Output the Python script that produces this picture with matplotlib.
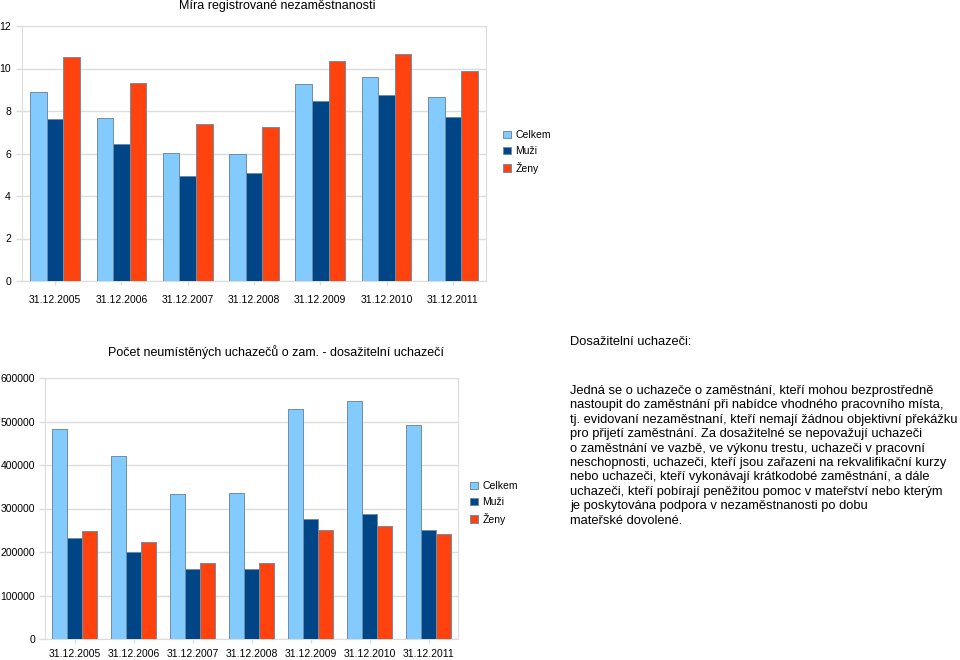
import matplotlib.pyplot as plt
import numpy as np

plt.rcParams['font.family'] = ['Liberation Sans', 'DejaVu Sans']

#===========data===========
dates = ["31.12.2005", "31.12.2006", "31.12.2007", "31.12.2008",
         "31.12.2009", "31.12.2010", "31.12.2011"]
series_names = ["Celkem", "Muži", "Ženy"]

# míra registrované nezaměstnanosti (%)
rate_celkem = [8.89, 7.68, 6.01, 5.98, 9.27, 9.58, 8.64]
rate_muzi = [7.62, 6.43, 4.95, 5.06, 8.45, 8.76, 7.70]
rate_zeny = [10.53, 9.31, 7.39, 7.23, 10.35, 10.68, 9.86]

# počet dosažitelných uchazečů
cnt_celkem = [481800, 421600, 332400, 334700, 527600, 546600, 492500]
cnt_muzi = [233300, 199800, 161600, 161600, 276800, 287400, 250800]
cnt_zeny = [248500, 222600, 173800, 173800, 251600, 260000, 241700]

info_title = "Dosažitelní uchazeči:"
info_lines = [
    "Jedná se o uchazeče o zaměstnání, kteří mohou bezprostředně",
    "nastoupit do zaměstnání při nabídce vhodného pracovního místa,",
    "tj. evidovaní nezaměstnaní, kteří nemají žádnou objektivní překážku",
    "pro přijetí zaměstnání. Za dosažitelné se nepovažují uchazeči",
    "o zaměstnání ve vazbě, ve výkonu trestu, uchazeči v pracovní",
    "neschopnosti, uchazeči, kteří jsou zařazeni na rekvalifikační kurzy",
    "nebo uchazeči, kteří vykonávají krátkodobé zaměstnání, a dále",
    "uchazeči, kteří pobírají peněžitou pomoc v mateřství nebo kterým",
    "je poskytována podpora v nezaměstnanosti po dobu",
    "mateřské dovolené.",
]

colors = ["#83CAFF", "#004586", "#FF420E"]
grid_color = "#dcdcdc"

W, H = 960, 660
fig = plt.figure(figsize=(W / 100, H / 100), dpi=100)


def px_axes(x0, y0, x1, y1):
    # pixel box (top-left origin) -> figure axes
    return fig.add_axes([x0 / W, 1 - y1 / H, (x1 - x0) / W, (y1 - y0) / H])


def grouped(ax, data, ymax, step):
    x = np.arange(len(dates))
    w = 0.25
    for i, vals in enumerate(data):
        ax.bar(x + (i - 1) * w, vals, width=w, color=colors[i],
               edgecolor="#6f8ea6", linewidth=0.7, label=series_names[i], zorder=3)
    ax.set_xlim(-0.5, len(dates) - 0.5)
    ax.set_ylim(0, ymax)
    ax.set_yticks(np.arange(0, ymax + step / 2, step))
    ax.set_xticks(x)
    ax.set_xticklabels(dates)
    ax.yaxis.grid(True, color=grid_color, linewidth=1, zorder=0)
    for s in ax.spines.values():
        s.set_color(grid_color)
    ax.tick_params(axis="both", colors=grid_color, labelcolor="black",
                   labelsize=7.5, length=4, width=1)
    ax.tick_params(axis="x", length=3, pad=7)
    ax.legend(loc="center left", frameon=False, fontsize=7.5,
              handlelength=0.75, handleheight=0.75, handletextpad=0.4,
              labelspacing=0.55, borderaxespad=0)


# ---- horní graf ----
ax1 = px_axes(22, 26, 486, 281)
grouped(ax1, [rate_celkem, rate_muzi, rate_zeny], 12, 2)
ax1.tick_params(axis="y", length=4, pad=4)
ax1.get_legend().set_bbox_to_anchor((499 / W, 1 - 152 / H), transform=fig.transFigure)
fig.text(277 / W, 1 - 6 / H, "Míra registrované nezaměstnanosti",
         ha="center", va="center", fontsize=9)

# ---- dolní graf ----
ax2 = px_axes(45, 378, 458, 639)
grouped(ax2, [cnt_celkem, cnt_muzi, cnt_zeny], 600000, 100000)
ax2.tick_params(axis="y", length=4, pad=3)
ax2.tick_params(axis="x", length=3, pad=4)
ax2.get_legend().set_bbox_to_anchor((466 / W, 1 - 503 / H), transform=fig.transFigure)
fig.text(276 / W, 1 - 352 / H,
         "Počet neumístěných uchazečů o zam. - dosažitelní uchazečí",
         ha="center", va="center", fontsize=9)

# ---- text vpravo ----
fig.text(570 / W, 1 - 342 / H, info_title, ha="left", va="center", fontsize=9.3)
for i, line in enumerate(info_lines):
    fig.text(570 / W, 1 - (391 + i * 14.4) / H, line, ha="left", va="center",
             fontsize=9.3)

plt.savefig("out.png", dpi=100)
